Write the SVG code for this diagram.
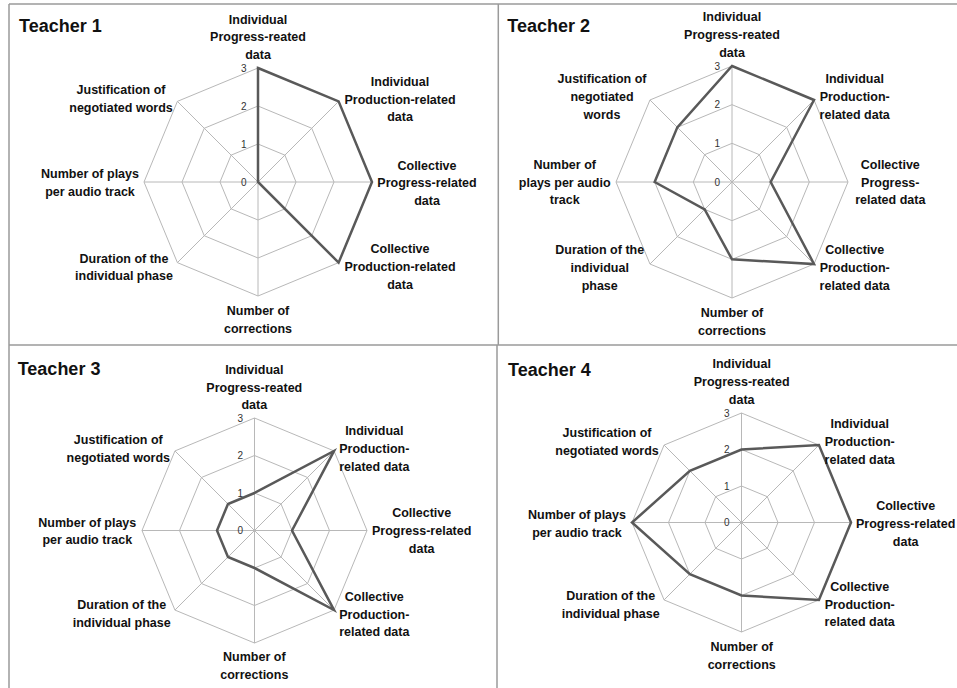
<svg xmlns="http://www.w3.org/2000/svg" width="957" height="688" viewBox="0 0 957 688">
<style>
.bg{fill:#fff}
.frame{stroke:#9a9a9a;stroke-width:1.5;fill:none}
.grid{stroke:#b8b8b8;stroke-width:1;fill:none}
.data{stroke:#595959;stroke-width:2.5;fill:none;stroke-linejoin:miter}
.title{font-family:"Liberation Sans",Arial,sans-serif;font-weight:bold;font-size:18px;fill:#111}
.lbl{font-family:"Liberation Sans",Arial,sans-serif;font-weight:bold;font-size:12.5px;fill:#111;text-anchor:middle}
.tick{font-family:"Liberation Sans",Arial,sans-serif;font-size:10px;fill:#333;text-anchor:end}
</style>
<rect class="bg" x="0" y="0" width="957" height="688"/>
<g id="frame">
<line class="frame" x1="9" y1="4" x2="957" y2="4"/>
<line class="frame" x1="9" y1="4" x2="9" y2="688"/>
<line class="frame" x1="498.3" y1="4" x2="498.3" y2="345"/>
<line class="frame" x1="9" y1="345" x2="957" y2="345"/>
<line class="frame" x1="497" y1="345" x2="497" y2="688"/>
</g>

<g id="teacher1">
<text class="title" x="19" y="32">Teacher 1</text>
<g id="grid1">
<polygon class="grid" points="258,144 284.87,155.13 296,182 284.87,208.87 258,220 231.13,208.87 220,182 231.13,155.13"/>
<polygon class="grid" points="258,106 311.74,128.26 334,182 311.74,235.74 258,258 204.26,235.74 182,182 204.26,128.26"/>
<polygon class="grid" points="258,68 338.61,101.39 372,182 338.61,262.61 258,296 177.39,262.61 144,182 177.39,101.39"/>
<path class="grid" d="M258,182L258,68M258,182L338.61,101.39M258,182L372,182M258,182L338.61,262.61M258,182L258,296M258,182L177.39,262.61M258,182L144,182M258,182L177.39,101.39"/>
</g>
<g id="ticks1">
<text class="tick" x="246.5" y="71.5">3</text>
<text class="tick" x="246.5" y="109.5">2</text>
<text class="tick" x="246.5" y="147.5">1</text>
<text class="tick" x="246.5" y="185.5">0</text>
</g>
<polygon id="data1" class="data" points="258,68 338.61,101.39 372,182 338.61,262.61 258,182 258,182 258,182 258,182"/>
<g id="labels1">
<text class="lbl" x="258" y="23.5">Individual</text>
<text class="lbl" x="258" y="41">Progress-reated</text>
<text class="lbl" x="258" y="58.7">data</text>
<text class="lbl" x="400" y="86">Individual</text>
<text class="lbl" x="400" y="103.5">Production-related</text>
<text class="lbl" x="400" y="121">data</text>
<text class="lbl" x="427" y="169.5">Collective</text>
<text class="lbl" x="427" y="187.3">Progress-related</text>
<text class="lbl" x="427" y="205">data</text>
<text class="lbl" x="400" y="253">Collective</text>
<text class="lbl" x="400" y="270.8">Production-related</text>
<text class="lbl" x="400" y="288.5">data</text>
<text class="lbl" x="258" y="315">Number of</text>
<text class="lbl" x="258" y="332.7">corrections</text>
<text class="lbl" x="124" y="262.7">Duration of the</text>
<text class="lbl" x="124" y="280.3">individual phase</text>
<text class="lbl" x="90" y="178.3">Number of plays</text>
<text class="lbl" x="90" y="196">per audio track</text>
<text class="lbl" x="121" y="94">Justification of</text>
<text class="lbl" x="121" y="111.7">negotiated words</text>
</g>
</g>

<g id="teacher2">
<text class="title" x="507.3" y="32.3">Teacher 2</text>
<g id="grid2">
<polygon class="grid" points="732,143.33 759.34,154.66 770.67,182 759.34,209.34 732,220.67 704.66,209.34 693.33,182 704.66,154.66"/>
<polygon class="grid" points="732,104.67 786.68,127.32 809.33,182 786.68,236.68 732,259.33 677.32,236.68 654.67,182 677.32,127.32"/>
<polygon class="grid" points="732,66 814.02,99.98 848,182 814.02,264.02 732,298 649.98,264.02 616,182 649.98,99.98"/>
<path class="grid" d="M732,182L732,66M732,182L814.02,99.98M732,182L848,182M732,182L814.02,264.02M732,182L732,298M732,182L649.98,264.02M732,182L616,182M732,182L649.98,99.98"/>
</g>
<g id="ticks2">
<text class="tick" x="720" y="69.5">3</text>
<text class="tick" x="720" y="108.2">2</text>
<text class="tick" x="720" y="146.8">1</text>
<text class="tick" x="720" y="185.5">0</text>
</g>
<polygon id="data2" class="data" points="732,66 814.02,99.98 770.67,182 814.02,264.02 732,259.33 704.66,209.34 654.67,182 677.32,127.32"/>
<g id="labels2">
<text class="lbl" x="732" y="21.3">Individual</text>
<text class="lbl" x="732" y="39">Progress-reated</text>
<text class="lbl" x="732" y="56.7">data</text>
<text class="lbl" x="854.7" y="83.3">Individual</text>
<text class="lbl" x="854.7" y="101.3">Production-</text>
<text class="lbl" x="854.7" y="119">related data</text>
<text class="lbl" x="890.3" y="169">Collective</text>
<text class="lbl" x="890.3" y="187">Progress-</text>
<text class="lbl" x="890.3" y="204.3">related data</text>
<text class="lbl" x="854.7" y="254.3">Collective</text>
<text class="lbl" x="854.7" y="272.3">Production-</text>
<text class="lbl" x="854.7" y="290">related data</text>
<text class="lbl" x="732" y="317.3">Number of</text>
<text class="lbl" x="732" y="335">corrections</text>
<text class="lbl" x="599.7" y="254.3">Duration of the</text>
<text class="lbl" x="599.7" y="272.3">individual</text>
<text class="lbl" x="599.7" y="290">phase</text>
<text class="lbl" x="564.7" y="169">Number of</text>
<text class="lbl" x="564.7" y="187">plays per audio</text>
<text class="lbl" x="564.7" y="204.3">track</text>
<text class="lbl" x="602" y="83.3">Justification of</text>
<text class="lbl" x="602" y="101.3">negotiated</text>
<text class="lbl" x="602" y="119">words</text>
</g>
</g>

<g id="teacher3">
<text class="title" x="17.7" y="375">Teacher 3</text>
<g id="grid3">
<polygon class="grid" points="254.5,493 281.02,503.98 292,530.5 281.02,557.02 254.5,568 227.98,557.02 217,530.5 227.98,503.98"/>
<polygon class="grid" points="254.5,455.5 307.53,477.47 329.5,530.5 307.53,583.53 254.5,605.5 201.47,583.53 179.5,530.5 201.47,477.47"/>
<polygon class="grid" points="254.5,418 334.05,450.95 367,530.5 334.05,610.05 254.5,643 174.95,610.05 142,530.5 174.95,450.95"/>
<path class="grid" d="M254.5,530.5L254.5,418M254.5,530.5L334.05,450.95M254.5,530.5L367,530.5M254.5,530.5L334.05,610.05M254.5,530.5L254.5,643M254.5,530.5L174.95,610.05M254.5,530.5L142,530.5M254.5,530.5L174.95,450.95"/>
</g>
<g id="ticks3">
<text class="tick" x="243" y="421.5">3</text>
<text class="tick" x="243" y="459">2</text>
<text class="tick" x="243" y="496.5">1</text>
<text class="tick" x="243" y="534">0</text>
</g>
<polygon id="data3" class="data" points="254.5,493 334.05,450.95 292,530.5 334.05,610.05 254.5,568 227.98,557.02 217,530.5 227.98,503.98"/>
<g id="labels3">
<text class="lbl" x="254.3" y="373.7">Individual</text>
<text class="lbl" x="254.3" y="391.7">Progress-reated</text>
<text class="lbl" x="254.3" y="409.3">data</text>
<text class="lbl" x="374.3" y="435">Individual</text>
<text class="lbl" x="374.3" y="453">Production-</text>
<text class="lbl" x="374.3" y="470.7">related data</text>
<text class="lbl" x="421.7" y="517.3">Collective</text>
<text class="lbl" x="421.7" y="535.3">Progress-related</text>
<text class="lbl" x="421.7" y="553">data</text>
<text class="lbl" x="374.3" y="600.7">Collective</text>
<text class="lbl" x="374.3" y="618.7">Production-</text>
<text class="lbl" x="374.3" y="636.3">related data</text>
<text class="lbl" x="254.3" y="660.7">Number of</text>
<text class="lbl" x="254.3" y="678.7">corrections</text>
<text class="lbl" x="121.7" y="609.3">Duration of the</text>
<text class="lbl" x="121.7" y="627.3">individual phase</text>
<text class="lbl" x="87.3" y="526.7">Number of plays</text>
<text class="lbl" x="87.3" y="544.3">per audio track</text>
<text class="lbl" x="118.3" y="443.7">Justification of</text>
<text class="lbl" x="118.3" y="461.7">negotiated words</text>
</g>
</g>

<g id="teacher4">
<text class="title" x="508" y="376">Teacher 4</text>
<g id="grid4">
<polygon class="grid" points="741.5,486 767.31,496.69 778,522.5 767.31,548.31 741.5,559 715.69,548.31 705,522.5 715.69,496.69"/>
<polygon class="grid" points="741.5,449.5 793.12,470.88 814.5,522.5 793.12,574.12 741.5,595.5 689.88,574.12 668.5,522.5 689.88,470.88"/>
<polygon class="grid" points="741.5,413 818.93,445.07 851,522.5 818.93,599.93 741.5,632 664.07,599.93 632,522.5 664.07,445.07"/>
<path class="grid" d="M741.5,522.5L741.5,413M741.5,522.5L818.93,445.07M741.5,522.5L851,522.5M741.5,522.5L818.93,599.93M741.5,522.5L741.5,632M741.5,522.5L664.07,599.93M741.5,522.5L632,522.5M741.5,522.5L664.07,445.07"/>
</g>
<g id="ticks4">
<text class="tick" x="729.5" y="416.5">3</text>
<text class="tick" x="729.5" y="453">2</text>
<text class="tick" x="729.5" y="489.5">1</text>
<text class="tick" x="729.5" y="526">0</text>
</g>
<polygon id="data4" class="data" points="741.5,449.5 818.93,445.07 851,522.5 818.93,599.93 741.5,595.5 689.88,574.12 632,522.5 689.88,470.88"/>
<g id="labels4">
<text class="lbl" x="741.7" y="368">Individual</text>
<text class="lbl" x="741.7" y="386">Progress-reated</text>
<text class="lbl" x="741.7" y="403.7">data</text>
<text class="lbl" x="859.7" y="428.3">Individual</text>
<text class="lbl" x="859.7" y="446.3">Production-</text>
<text class="lbl" x="859.7" y="464">related data</text>
<text class="lbl" x="905.7" y="510">Collective</text>
<text class="lbl" x="905.7" y="528">Progress-related</text>
<text class="lbl" x="905.7" y="545.7">data</text>
<text class="lbl" x="859.7" y="590.7">Collective</text>
<text class="lbl" x="859.7" y="608.7">Production-</text>
<text class="lbl" x="859.7" y="626.3">related data</text>
<text class="lbl" x="741.7" y="650.7">Number of</text>
<text class="lbl" x="741.7" y="668.7">corrections</text>
<text class="lbl" x="610.7" y="600">Duration of the</text>
<text class="lbl" x="610.7" y="617.7">individual phase</text>
<text class="lbl" x="577" y="519">Number of plays</text>
<text class="lbl" x="577" y="536.7">per audio track</text>
<text class="lbl" x="607" y="437.3">Justification of</text>
<text class="lbl" x="607" y="455">negotiated words</text>
</g>
</g>
</svg>
